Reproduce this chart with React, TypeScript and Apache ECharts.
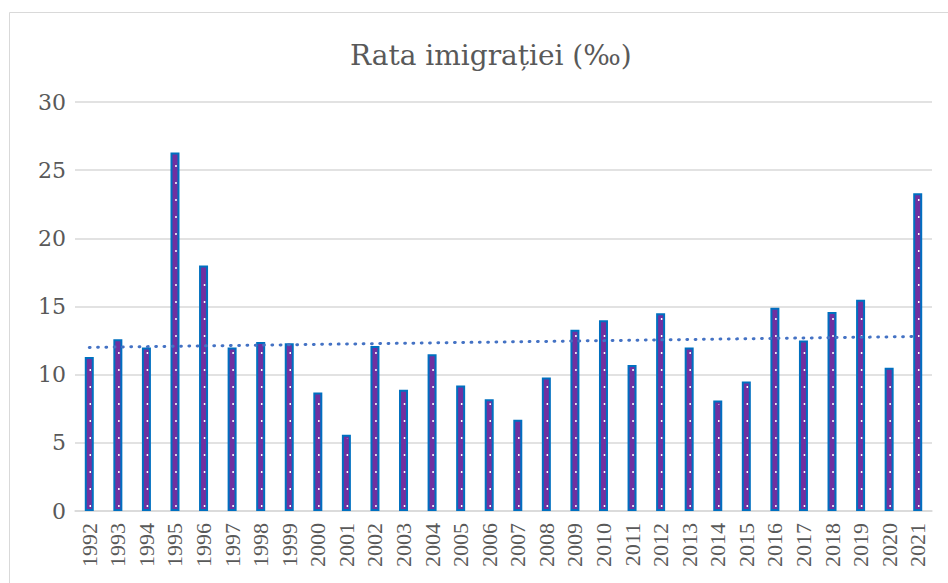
import React, { useEffect, useRef } from "react";
import * as echarts from "echarts";

const years = [
  "1992", "1993", "1994", "1995", "1996", "1997", "1998", "1999", "2000", "2001",
  "2002", "2003", "2004", "2005", "2006", "2007", "2008", "2009", "2010", "2011",
  "2012", "2013", "2014", "2015", "2016", "2017", "2018", "2019", "2020", "2021",
];
const rates = [
  11.3, 12.6, 12.0, 26.3, 18.0, 12.0, 12.4, 12.3, 8.7, 5.6,
  12.1, 8.9, 11.5, 9.2, 8.2, 6.7, 9.8, 13.3, 14.0, 10.7,
  14.5, 12.0, 8.1, 9.5, 14.9, 12.5, 14.6, 15.5, 10.5, 23.3,
];
const trendEnds = [12.0, 12.8];
const titleText = "Rata imigrației (‰)";

export default function App() {
  const ref = useRef<HTMLDivElement>(null);
  useEffect(() => {
    if (!ref.current) return;
    const chart = echarts.init(ref.current, null, { renderer: "svg" });
    chart.setOption({
      animation: false,
      backgroundColor: "#ffffff",
      title: {
        text: titleText,
        left: 345,
        top: 36,
        textStyle: {
          fontFamily: "DejaVu Serif",
          fontSize: 28,
          fontWeight: "normal",
          color: "#595959",
        },
      },
      graphic: [
        {
          type: "rect",
          shape: { x: 9.5, y: 12.5, width: 1200, height: 1200 },
          style: { fill: "none", stroke: "#D9D9D9", lineWidth: 1 },
          silent: true,
        },
      ],
      grid: { left: 75, right: 16, top: 102, bottom: 72, containLabel: false },
      xAxis: {
        type: "category",
        data: years,
        axisLine: { lineStyle: { color: "#D9D9D9", width: 1.5 } },
        axisTick: { show: false },
        axisLabel: {
          rotate: 90,
          margin: 12,
          fontFamily: "Liberation Serif",
          fontSize: 22,
          color: "#595959",
          interval: 0,
        },
      },
      yAxis: {
        type: "value",
        min: 0,
        max: 30,
        interval: 5,
        axisLine: { show: false },
        axisTick: { show: false },
        splitLine: { lineStyle: { color: "#D9D9D9", width: 1.5 } },
        axisLabel: {
          margin: 9,
          fontFamily: "DejaVu Serif",
          fontSize: 22,
          color: "#595959",
        },
      },
      series: [
        {
          type: "bar",
          data: rates,
          barWidth: 9,
          itemStyle: { color: "#7030A0", borderColor: "#0070C0", borderWidth: 2 },
          z: 2,
        },
        {
          type: "custom",
          data: years.map((y, i) => [i, rates[i]]),
          z: 3,
          silent: true,
          renderItem: (params: any, api: any) => {
            const top = api.coord([api.value(0), api.value(1)]);
            const base = api.coord([api.value(0), 0]);
            return {
              type: "line",
              shape: { x1: top[0] + 1, y1: base[1] - 4, x2: top[0] + 1, y2: top[1] + 4 },
              style: { stroke: "#ffffff", lineWidth: 1.5, lineDash: [2, 15] },
            };
          },
        },
        {
          type: "line",
          data: [
            [years[0], trendEnds[0]],
            [years[years.length - 1], trendEnds[1]],
          ],
          symbol: "none",
          z: 4,
          lineStyle: { color: "#4472C4", width: 3, type: [0.8, 7.5], cap: "round" },
        },
      ],
    });
    return () => chart.dispose();
  }, []);
  return (
    <div
      ref={ref}
      style={{ position: "fixed", left: 0, top: 0, width: 948, height: 583 }}
    />
  );
}
